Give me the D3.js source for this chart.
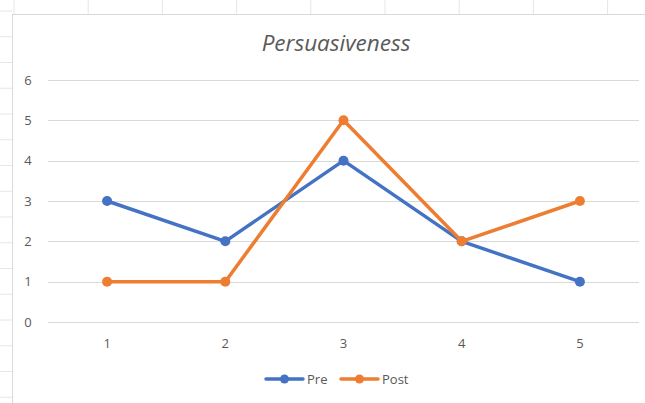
<!DOCTYPE html>
<html>
<head>
<meta charset="utf-8">
<script src="https://cdn.jsdelivr.net/npm/d3@7"></script>
<style>
  body { margin: 0; background: #fff; }
  text { font-family: "Open Sans", "Noto Sans", sans-serif; }
</style>
</head>
<body>
<script>
// data
var categories = ["1", "2", "3", "4", "5"];
var pre = [3, 2, 4, 2, 1];
var post = [1, 1, 5, 2, 3];
var yTicks = [0, 1, 2, 3, 4, 5, 6];
var seriesNames = ["Pre", "Post"];
var colors = ["#4472C4", "#ED7D31"];

var W = 645, H = 403;
var svg = d3.select("body").append("svg")
    .attr("width", W)
    .attr("height", H);

// faint spreadsheet cells behind the chart
var sheet = svg.append("g").attr("stroke", "#e6e6e6").attr("stroke-width", 1);
d3.range(14, W, 74.2).forEach(function(x) {
    sheet.append("line").attr("x1", x).attr("x2", x).attr("y1", 0).attr("y2", 14);
});
d3.range(11, H, 25.75).forEach(function(y) {
    sheet.append("line").attr("x1", 0).attr("x2", 12).attr("y1", y).attr("y2", y);
});

// chart area
svg.append("rect")
    .attr("x", 12.5).attr("y", 14.5)
    .attr("width", W).attr("height", H)
    .attr("fill", "#fff")
    .attr("stroke", "#d9d9d9");

var margin = {top: 80, left: 48, right: 6, bottom: 81};
var x = d3.scaleBand()
    .domain(categories)
    .range([margin.left, W - margin.right]);
var y = d3.scaleLinear()
    .domain([0, 6])
    .range([H - margin.bottom, margin.top]);

// gridlines
svg.append("g").selectAll("line")
    .data(yTicks)
    .enter().append("line")
    .attr("x1", x.range()[0]).attr("x2", x.range()[1])
    .attr("y1", function(d) { return Math.round(y(d)) + 0.5; })
    .attr("y2", function(d) { return Math.round(y(d)) + 0.5; })
    .attr("stroke", "#d9d9d9")
    .attr("stroke-width", 1);

// axis labels
svg.append("g").selectAll("text")
    .data(yTicks)
    .enter().append("text")
    .attr("x", 28)
    .attr("y", function(d) { return y(d); })
    .attr("dy", "0.35em")
    .attr("text-anchor", "middle")
    .attr("font-size", 13)
    .attr("fill", "#595959")
    .text(function(d) { return d; });

svg.append("g").selectAll("text")
    .data(categories)
    .enter().append("text")
    .attr("x", function(d) { return x(d) + x.bandwidth() / 2; })
    .attr("y", 343)
    .attr("dy", "0.35em")
    .attr("text-anchor", "middle")
    .attr("font-size", 13)
    .attr("fill", "#595959")
    .text(function(d) { return d; });

// title
svg.append("text")
    .attr("x", 336)
    .attr("y", 51)
    .attr("text-anchor", "middle")
    .attr("font-size", 22.5)
    .attr("font-style", "italic")
    .attr("fill", "#595959")
    .text("Persuasiveness");

var line = d3.line()
    .x(function(d, i) { return x(categories[i]) + x.bandwidth() / 2; })
    .y(function(d) { return y(d); });

[pre, post].forEach(function(values, s) {
    var g = svg.append("g");
    g.append("path")
        .datum(values)
        .attr("fill", "none")
        .attr("stroke", colors[s])
        .attr("stroke-width", 3.5)
        .attr("stroke-linejoin", "round")
        .attr("stroke-linecap", "round")
        .attr("d", line);
    g.selectAll("circle")
        .data(values)
        .enter().append("circle")
        .attr("cx", function(d, i) { return x(categories[i]) + x.bandwidth() / 2; })
        .attr("cy", function(d) { return y(d); })
        .attr("r", 5)
        .attr("fill", colors[s]);
});

// legend
var legendX = [266, 341];
seriesNames.forEach(function(name, s) {
    var lg = svg.append("g").attr("transform", "translate(" + legendX[s] + ",379)");
    lg.append("line")
        .attr("x1", 0).attr("x2", 37)
        .attr("stroke", colors[s])
        .attr("stroke-width", 3.5)
        .attr("stroke-linecap", "round");
    lg.append("circle")
        .attr("cx", 18.5).attr("r", 4.5)
        .attr("fill", colors[s]);
    lg.append("text")
        .attr("x", 41)
        .attr("dy", "0.35em")
        .attr("font-size", 13)
        .attr("fill", "#595959")
        .text(name);
});
</script>
</body>
</html>
